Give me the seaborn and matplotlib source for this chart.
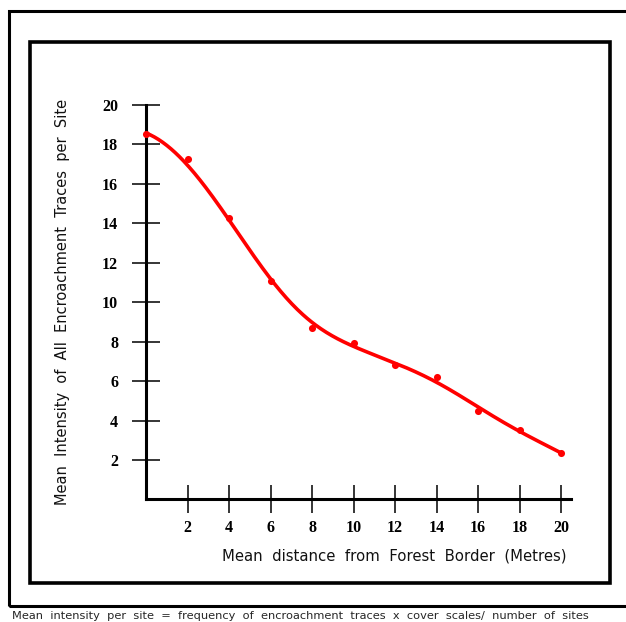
import numpy as np
import pandas as pd
import matplotlib
matplotlib.use("Agg")
import matplotlib.pyplot as plt
from matplotlib.patches import Rectangle
import seaborn as sns

# values
distance = [0, 2, 4, 6, 8, 10, 12, 14, 16, 18, 20]
intensity = [18.55, 17.25, 14.25, 11.1, 8.7, 7.95, 6.8, 6.2, 4.5, 3.5, 2.35]
x_ticks = [2, 4, 6, 8, 10, 12, 14, 16, 18, 20]
y_ticks = [2, 4, 6, 8, 10, 12, 14, 16, 18, 20]

df = pd.DataFrame({"distance": distance, "intensity": intensity})

# smooth trend line: local quadratic fit (loess-style) of the points
xs = np.array(distance, float)
ys = np.array(intensity, float)
grid = np.linspace(xs.min(), xs.max(), 300)
smooth = []
for g in grid:
    wts = np.exp(-0.5 * ((xs - g) / 2.3) ** 2)
    coef = np.polyfit(xs - g, ys, 2, w=np.sqrt(wts))
    smooth.append(coef[-1])
curve = pd.DataFrame({"distance": grid, "intensity": smooth})

sns.set_style("white")
plt.rcParams["font.family"] = ["DejaVu Sans"]

W, H = 626, 622
fig = plt.figure(figsize=(W / 100, H / 100), dpi=100)

def px(x0, y0, x1, y1):
    # pixel box (top-left origin) -> figure fraction rect
    return (x0 / W, 1 - y1 / H, (x1 - x0) / W, (y1 - y0) / H)

# outer and inner frames
l, b, w, h = px(9, 11, 640, 606)
fig.patches.append(Rectangle((l, b), w, h, transform=fig.transFigure,
                             fill=False, lw=2.2, ec="black"))
l, b, w, h = px(30, 42, 610, 583)
fig.patches.append(Rectangle((l, b), w, h, transform=fig.transFigure,
                             fill=False, lw=2.6, ec="black"))

ax = fig.add_axes(px(146, 105, 571.4, 499.4))
sns.lineplot(data=curve, x="distance", y="intensity", color="red", lw=2.6,
             ax=ax, clip_on=False)
sns.scatterplot(data=df, x="distance", y="intensity", color="red", s=26,
                linewidth=0, ax=ax, clip_on=False, zorder=3)

ax.set_xlim(0, 20.5)
ax.set_ylim(0, 20)
ax.set_xticks(x_ticks)
ax.set_yticks(y_ticks)
for s in ["top", "right"]:
    ax.spines[s].set_visible(False)
for s in ["left", "bottom"]:
    ax.spines[s].set_linewidth(2.2)
    ax.spines[s].set_color("black")
ax.tick_params(bottom=True, left=True, direction="inout", length=20,
               width=1.1, color="black", labelcolor="black")
ax.tick_params(axis="y", pad=10)
ax.tick_params(axis="x", pad=5)
for lab in ax.get_xticklabels() + ax.get_yticklabels():
    lab.set_fontfamily("Liberation Serif")
    lab.set_fontweight("bold")
    lab.set_fontsize(11.5)

ax.set_xlabel("Mean  distance  from  Forest  Border  (Metres)", fontsize=10.7,
              color="#111111")
ax.xaxis.set_label_coords(0.583, -0.125)
ax.set_ylabel("Mean  Intensity  of  All  Encroachment  Traces  per  Site",
              fontsize=10.5, color="#111111")
ax.yaxis.set_label_coords(-0.178, 0.5)

fig.text(12 / W, 1 - 616 / H,
         "Mean  intensity  per  site  =  frequency  of  encroachment  traces  x  cover  scales/  number  of  sites",
         fontsize=8.2, va="center", ha="left")

fig.savefig("out.png", dpi=100)
